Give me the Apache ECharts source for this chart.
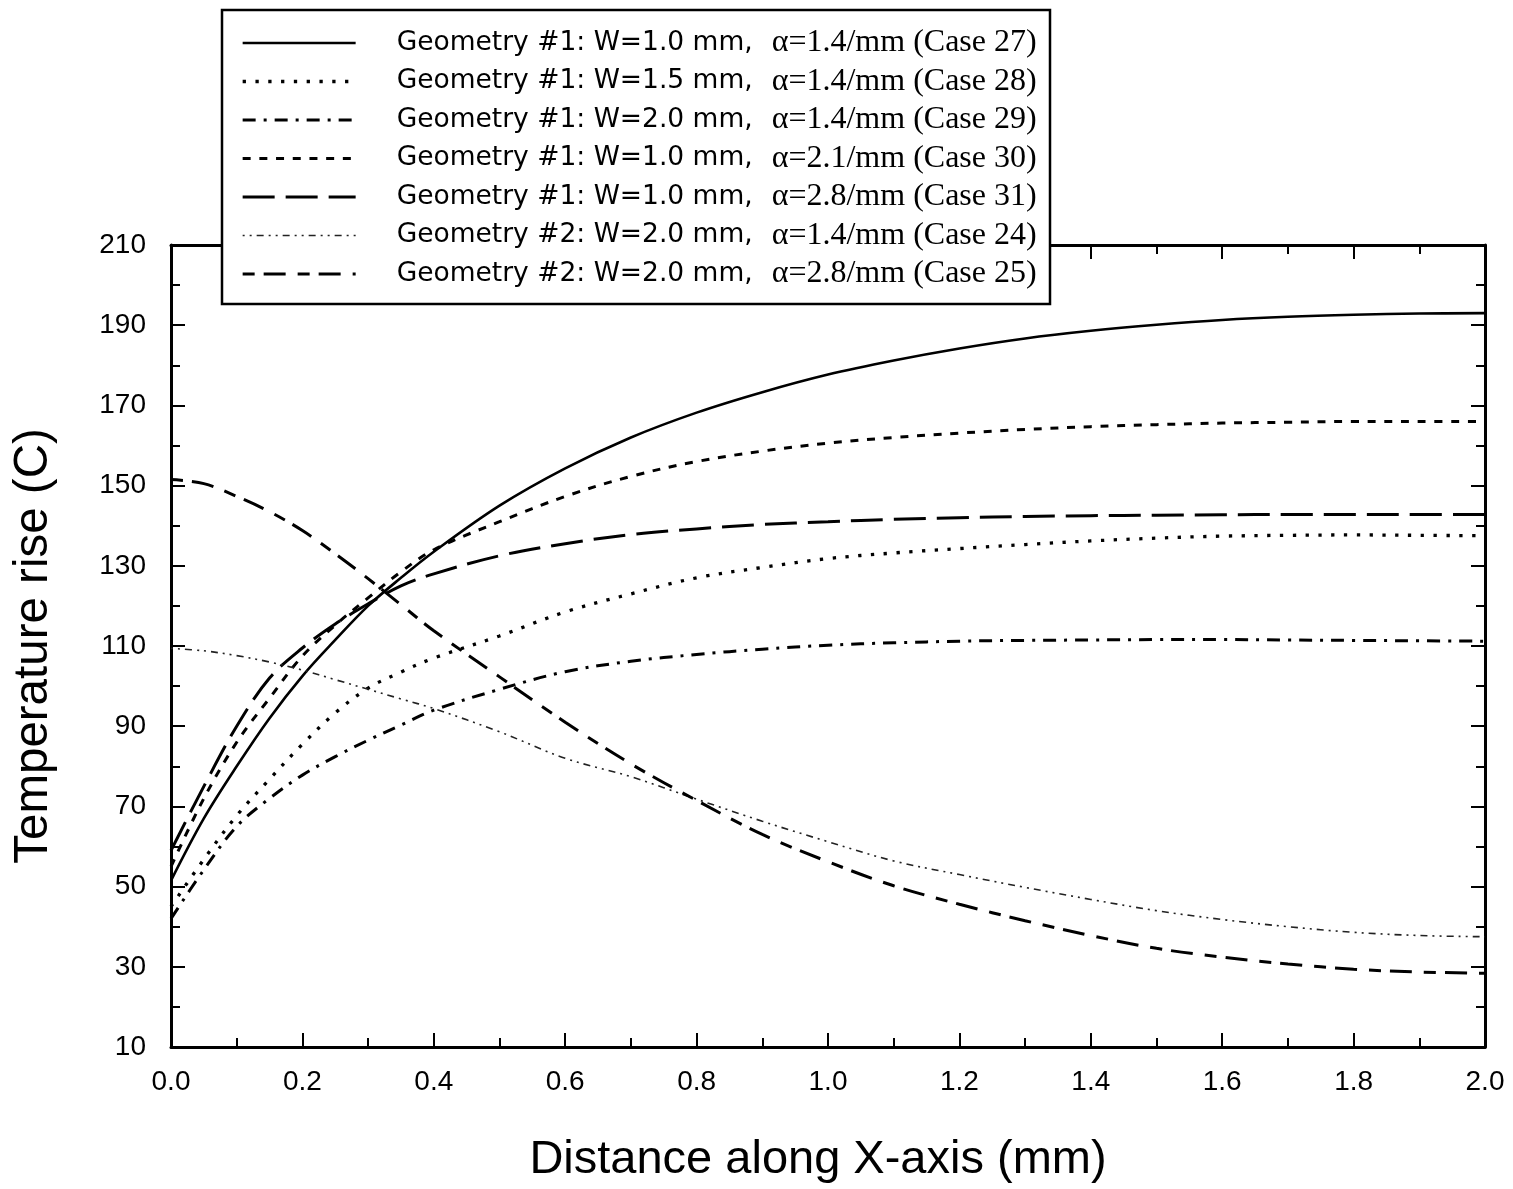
<!DOCTYPE html>
<html>
<head>
<meta charset="utf-8">
<script src="https://cdn.jsdelivr.net/npm/echarts@6/dist/echarts.min.js"></script>
<style>
  html, body { margin: 0; padding: 0; background: #fff; }
  #chart { width: 1513px; height: 1189px; }
</style>
</head>
<body>
<div id="chart"></div>
<script>
// Distance along the X-axis (mm) at which each curve is sampled
const xs = [0, 0.05, 0.1, 0.15, 0.2, 0.25, 0.3, 0.35, 0.4, 0.5, 0.6, 0.7, 0.8, 0.9,
            1.0, 1.1, 1.2, 1.3, 1.4, 1.5, 1.6, 1.7, 1.8, 1.9, 2.0];

// Temperature rise (C) for each case
const case27 = [51.5, 67, 80, 92, 102.5, 111.5, 120, 127, 133.5, 145, 154.3, 162, 168.2, 173.3,
                177.7, 181.2, 184.2, 186.7, 188.6, 190.1, 191.3, 192.1, 192.6, 192.9, 193];
const case28 = [45, 56.8, 67.7, 76.8, 85.5, 93.3, 99.5, 103.5, 107, 112.5, 118.5, 123, 127, 129.6,
                131.8, 133.2, 134.3, 135.3, 136.2, 136.9, 137.4, 137.6, 137.7, 137.6, 137.5];
const case29 = [42, 54.2, 65, 72, 77.8, 82.4, 86.5, 90.3, 94, 99.2, 103.6, 106.2, 107.9, 109.2,
                110.2, 110.8, 111.2, 111.4, 111.5, 111.6, 111.6, 111.5, 111.4, 111.3, 111.2];
const case30 = [55, 72, 86, 97, 107.5, 115.2, 122, 128.5, 134, 141, 147.3, 152.3, 156, 158.6,
                160.6, 162, 163.1, 164, 164.7, 165.2, 165.6, 165.8, 166, 166, 166];
const case31 = [59, 75, 90, 102, 109.5, 115.5, 120.5, 125, 128, 132.5, 135.5, 137.8, 139.2, 140.3,
                141, 141.6, 142, 142.3, 142.5, 142.6, 142.7, 142.8, 142.8, 142.8, 142.8];
const case24 = [109.4, 108.8, 107.6, 106, 104, 101.6, 99.2, 96.8, 94.4, 88.6, 82, 77.4, 71.8, 66.3,
                61.2, 56.4, 53, 49.8, 46.8, 44, 41.8, 40, 38.6, 37.8, 37.5];
const case25 = [151.5, 150.5, 147.3, 143.5, 138.8, 133, 126.8, 120.3, 113.8, 102.3, 91, 80.6, 71.5, 63,
                56.2, 50.2, 45.6, 41.5, 37.8, 34.6, 32.4, 30.7, 29.4, 28.7, 28.4];

// Legend entries (order as listed in the key)
const seriesNames = [
  'Geometry #1: W=1.0 mm, α=1.4/mm (Case 27)',
  'Geometry #1: W=1.5 mm, α=1.4/mm (Case 28)',
  'Geometry #1: W=2.0 mm, α=1.4/mm (Case 29)',
  'Geometry #1: W=1.0 mm, α=2.1/mm (Case 30)',
  'Geometry #1: W=1.0 mm, α=2.8/mm (Case 31)',
  'Geometry #2: W=2.0 mm, α=1.4/mm (Case 24)',
  'Geometry #2: W=2.0 mm, α=2.8/mm (Case 25)'
];
const seriesValues = [case27, case28, case29, case30, case31, case24, case25];

// Axis ranges and tick steps
const xRange = [0, 2], xStep = 0.2;
const yRange = [10, 210], yStep = 20;

// Line style per case
const lineStyles = [
  { width: 2.6, type: 'solid' },
  { width: 3.3, type: [3.3, 9.5], cap: 'butt' },
  { width: 3, type: [13, 8, 3, 8] },
  { width: 3, type: [8, 8.7] },
  { width: 3, type: [32, 11] },
  { width: 1.6, type: [2, 5, 2, 5, 7, 5], color: '#222' },
  { width: 3, type: [12, 9, 22, 12] }
];

const SANS = '"Liberation Sans", Arial, Helvetica, sans-serif';
const LEG_SANS = '"DejaVu Sans", sans-serif';
const SERIF = '"Liberation Serif", "Times New Roman", serif';

const chart = echarts.init(document.getElementById('chart'), null, { renderer: 'canvas' });

const axisLineStyle = { color: '#000', width: 3 };
const tickStyle = { color: '#000', width: 2 };

function valueAxis(extra) {
  return Object.assign({
    type: 'value',
    axisLine: { show: true, onZero: false, lineStyle: axisLineStyle },
    axisTick: { show: true, inside: true, length: 14, lineStyle: tickStyle },
    minorTick: { show: true, splitNumber: 2, length: 9, lineStyle: tickStyle },
    splitLine: { show: false },
    minorSplitLine: { show: false }
  }, extra);
}

const option = {
  backgroundColor: '#fff',
  animation: false,
  grid: { left: 171, right: 28, top: 245, bottom: 139, containLabel: false },
  xAxis: [
    valueAxis({
      position: 'bottom', min: xRange[0], max: xRange[1], interval: xStep,
      axisLabel: { color: '#000', fontFamily: SANS, fontSize: 28, margin: 21,
                   formatter: v => v.toFixed(1) },
      name: 'Distance along X-axis (mm)', nameLocation: 'middle', nameGap: 90,
      nameTextStyle: { color: '#000', fontFamily: SANS, fontSize: 47, padding: [0, 20, 0, 0] }
    }),
    valueAxis({
      position: 'top', min: xRange[0], max: xRange[1], interval: xStep,
      axisLabel: { show: false }
    })
  ],
  yAxis: [
    valueAxis({
      position: 'left', min: yRange[0], max: yRange[1], interval: yStep,
      axisLabel: { color: '#000', fontFamily: SANS, fontSize: 28, margin: 25 },
      name: 'Temperature rise (C)', nameLocation: 'middle', nameGap: 113,
      nameTextStyle: { color: '#000', fontFamily: SANS, fontSize: 47.5 }
    }),
    valueAxis({
      position: 'right', min: yRange[0], max: yRange[1], interval: yStep,
      axisLabel: { show: false }
    })
  ],
  legend: {
    orient: 'vertical',
    left: 241, top: 27,
    padding: 0,
    itemWidth: 113, itemHeight: 14, itemGap: 6.5,
    selectedMode: false,
    itemStyle: { opacity: 0 },
    lineStyle: { width: 'inherit', type: 'inherit' },
    data: seriesNames,
    formatter: name => {
      const i = name.indexOf('α');
      return '{a|' + name.slice(0, i).trim() + '}{b|' + name.slice(i) + '}';
    },
    textStyle: {
      color: '#000',
      rich: {
        a: { fontFamily: LEG_SANS, fontSize: 26.5, lineHeight: 30, color: '#000', padding: [0, 0, 0, 36] },
        b: { fontFamily: SERIF, fontSize: 32, lineHeight: 30, color: '#000', padding: [0, 0, 0, 19] }
      }
    },
    z: 5
  },
  graphic: [{
    type: 'rect',
    z: 4,
    shape: { x: 222, y: 10, width: 828, height: 294 },
    style: { fill: '#fff', stroke: '#000', lineWidth: 2.5 }
  }],
  series: seriesNames.map((name, k) => ({
    name,
    type: 'line',
    data: xs.map((x, i) => [x, seriesValues[k][i]]),
    smooth: 0.35,
    symbol: 'none',
    clip: true,
    lineStyle: Object.assign({ color: '#000' }, lineStyles[k]),
    itemStyle: { color: lineStyles[k].color || '#000' },
    emphasis: { disabled: true }
  }))
};

chart.setOption(option);
</script>
</body>
</html>
